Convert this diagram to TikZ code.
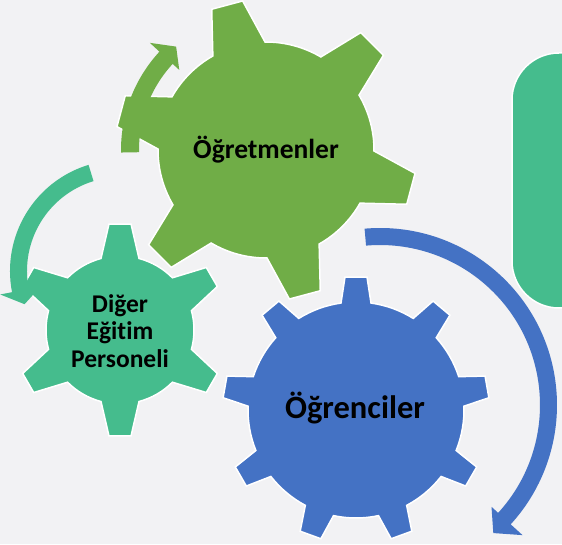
\documentclass[tikz,border=0pt]{standalone}
\usepackage{fontspec}
\setmainfont[RawFeature=-liga]{Carlito}
\definecolor{bg}{RGB}{242,242,244}
\definecolor{ggreen}{RGB}{112,173,71}
\definecolor{gblue}{RGB}{68,114,196}
\definecolor{gteal}{RGB}{69,188,141}
% #1 style, #2 cx, #3 cy, #4 teeth, #5 first tooth angle, #6 body radius, #7 tip radius, #8 base half-width, #9 tip half-width
\newcommand{\drawgear}[9]{%
  \pgfmathsetmacro\gab{asin(#8/#6)}%
  \pgfmathsetmacro\gat{atan(#9/#7)}%
  \pgfmathsetmacro\grt{veclen(#7,#9)}%
  \pgfmathsetmacro\gstep{360/#4}%
  \pgfmathtruncatemacro\glast{#4-1}%
  \path[#1, shift={(#2,#3)}] (#5-\gab:#6)
    \foreach \k [evaluate=\k as \gang using {#5+\k*\gstep}] in {0,...,\glast} {
      -- (\gang-\gat:\grt) -- (\gang+\gat:\grt) -- (\gang+\gab:#6)
      arc[start angle=\gang+\gab, end angle=\gang+\gstep-\gab, radius=#6]
    } -- cycle;
}
\begin{document}
\begin{tikzpicture}[x=1pt,y=1pt,line join=miter,
  gearG/.style={fill=ggreen, draw=white, line width=1.5pt},
  gearT/.style={fill=gteal, draw=white, line width=1.5pt},
  gearB/.style={fill=gblue, draw=white, line width=1.5pt},
  label/.style={font=\bfseries, text=black, align=center}]
\fill[bg] (0,0) rectangle (562,544);
\useasboundingbox (0,0) rectangle (562,544);
\clip (0,0) rectangle (562,544);
% right rounded box
\path[fill=gteal, draw=white, line width=1.5pt, rounded corners=47pt] (512,491) rectangle (640,236);
% gears
\drawgear{gearG}{266}{394}{6}{105}{108}{150}{27}{16}
\drawgear{gearT}{120}{214}{6}{90}{74}{106}{19}{11}
\drawgear{gearB}{356}{134}{9}{90}{108}{133}{15}{11}
% circular arrows
\fill[ggreen, shift={(266,394)}] (181:145) arc[start angle=181, end angle=137.3, radius=145]
  -- (137.3:158) -- (131:137) -- (137.3:118) -- (137.3:127)
  arc[start angle=137.3, end angle=181, radius=127] -- cycle;
\fill[gteal, shift={(121,273)}] (107:111) arc[start angle=107, end angle=191, radius=111]
  -- (191:123) -- (199:102) -- (191:82) -- (191:94)
  arc[start angle=191, end angle=107, radius=94] -- cycle;
\fill[gblue, shift={(380,139)}] (95:177) arc[start angle=95, end angle=-42.4, radius=177]
  -- (-42.4:193) -- (-48.5:171) -- (-42.4:151) -- (-42.4:160)
  arc[start angle=-42.4, end angle=95, radius=160] -- cycle;
% labels
\node[label, font=\bfseries\fontsize{27.5}{30}\selectfont] (ogretmen) at (266,394) {Öğretmenler};
\node[label, font=\bfseries\fontsize{25.5}{27.5}\selectfont] (diger) at (120,213) {Diğer\\Eğitim\\Personeli};
\node[label, font=\bfseries\fontsize{32.5}{36}\selectfont] (ogrenci) at (355,136) {Öğrenciler};
\end{tikzpicture}
\end{document}
